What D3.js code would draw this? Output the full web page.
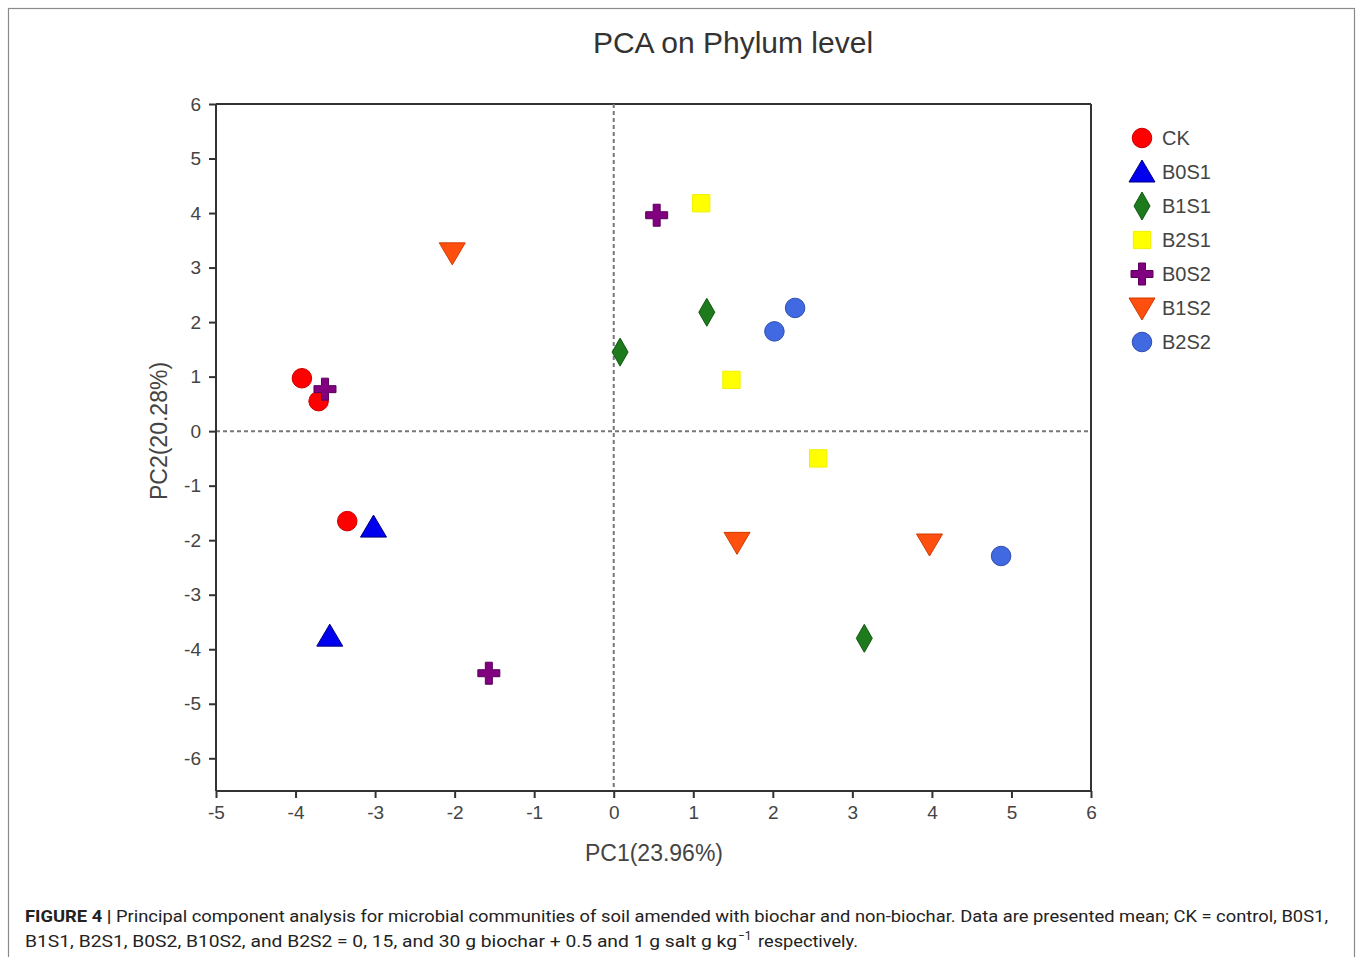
<!DOCTYPE html>
<html><head><meta charset="utf-8">
<script src="https://cdn.jsdelivr.net/npm/d3@7"></script>
<style>body{margin:0;background:#fff}svg{display:block}</style>
</head><body>
<svg id="c" width="1357" height="957"></svg>
<script>
const groups = ["CK","B0S1","B1S1","B2S1","B0S2","B1S2","B2S2"];
const groupColors = ["#ff0000","#0000ee","#1d7a1d","#ffff00","#800080","#ff4f0f","#4169e1"];
const groupStroke = ["#cc0000","#000080","#0f5a0f","#f0f000","#5a005a","#d03a00","#2f4fb0"];
const groupShapes = ["circle","triangle","diamond","square","cross","down","circle"];
const pc1 = {
  CK:[-3.92,-3.71,-3.35], B0S1:[-3.02,-3.57], B1S1:[0.08,1.17,3.15], B2S1:[1.10,1.48,2.57],
  B0S2:[0.54,-3.63,-1.57], B1S2:[-2.03,1.55,3.97], B2S2:[2.28,2.02,4.87]
};
const pc2 = {
  CK:[0.97,0.55,-1.65], B0S1:[-1.76,-3.76], B1S1:[1.45,2.18,-3.80], B2S1:[4.18,0.94,-0.50],
  B0S2:[3.96,0.77,-4.44], B1S2:[3.27,-2.04,-2.07], B2S2:[2.26,1.83,-2.29]
};
const xTicks = [-5,-4,-3,-2,-1,0,1,2,3,4,5,6];
const yTicks = [6,5,4,3,2,1,0,-1,-2,-3,-4,-5,-6];

const svg = d3.select("#c");
const font = "'Liberation Sans', Arial, sans-serif";
// outer frame
svg.append("rect").attr("x",8.5).attr("y",8.5).attr("width",1346).attr("height",960)
  .attr("fill","none").attr("stroke","#8a8a8a").attr("stroke-width",1.2);

const L=216, R=1091, T=104, B=791;
const x = d3.scaleLinear().domain([-5,6]).range([L,R]);
const y = d3.scaleLinear().domain([-6.6,6]).range([B,T]);

svg.append("text").attr("x",733).attr("y",53).attr("text-anchor","middle")
  .attr("font-family",font).attr("font-size",30).attr("fill","#333").text("PCA on Phylum level");

// box
svg.append("line").attr("x1",L).attr("x2",R).attr("y1",T).attr("y2",T).attr("stroke","#333").attr("stroke-width",2);
svg.append("line").attr("x1",R).attr("x2",R).attr("y1",T).attr("y2",B).attr("stroke","#333").attr("stroke-width",2);

// dashed zero lines
svg.append("line").attr("x1",x(0)).attr("x2",x(0)).attr("y1",T).attr("y2",B)
  .attr("stroke","#777").attr("stroke-width",2).attr("stroke-dasharray","4,3");
svg.append("line").attr("x1",L).attr("x2",R).attr("y1",y(0)).attr("y2",y(0))
  .attr("stroke","#777").attr("stroke-width",2).attr("stroke-dasharray","4,3");

const fmt = d => String(d);
const xa = svg.append("g").attr("transform",`translate(0,${B})`)
  .call(d3.axisBottom(x).tickValues(xTicks).tickSize(7).tickPadding(8).tickSizeOuter(0).tickFormat(fmt));
const ya = svg.append("g").attr("transform",`translate(${L},0)`)
  .call(d3.axisLeft(y).tickValues(yTicks).tickSize(7).tickPadding(8).tickSizeOuter(0).tickFormat(fmt));
[xa,ya].forEach(a=>{
  a.select(".domain").attr("stroke","#333").attr("stroke-width",2);
  a.selectAll(".tick line").attr("stroke","#333").attr("stroke-width",2);
  a.selectAll("text").attr("font-family",font).attr("font-size",19).attr("fill","#444");
});
ya.select(".domain").attr("d",`M0,${B}V${T}`);
xa.select(".domain").attr("d",`M${L},0H${R}`);

svg.append("text").attr("x",654).attr("y",861).attr("text-anchor","middle")
  .attr("font-family",font).attr("font-size",23).attr("fill","#444").text("PC1(23.96%)");
svg.append("text").attr("transform","translate(167,431) rotate(-90)").attr("text-anchor","middle")
  .attr("font-family",font).attr("font-size",23).attr("fill","#444").text("PC2(20.28%)");

function shapePath(s){
  if(s==="circle") return d3.symbol(d3.symbolCircle,300)();
  if(s==="square") return d3.symbol(d3.symbolSquare,300)();
  if(s==="triangle") return "M0,-12L13,10L-13,10Z";
  if(s==="down") return "M-13,-10L13,-10L0,12Z";
  if(s==="diamond") return "M0,-14L8,0L0,14L-8,0Z";
  if(s==="cross") return "M-3.5,-11H3.5V-3.5H11V3.5H3.5V11H-3.5V3.5H-11V-3.5H-3.5Z";
}
const pts = svg.append("g");
groups.forEach((g,i)=>{
  pc1[g].forEach((v,j)=>{
    pts.append("path").attr("d",shapePath(groupShapes[i]))
      .attr("transform",`translate(${x(v)},${y(pc2[g][j])})`)
      .attr("fill",groupColors[i]).attr("stroke",groupStroke[i]).attr("stroke-width",1);
  });
});

// legend
const lg = svg.append("g");
groups.forEach((g,i)=>{
  const yy = 138 + i*34;
  lg.append("path").attr("d",shapePath(groupShapes[i])).attr("transform",`translate(1142,${yy})`)
    .attr("fill",groupColors[i]).attr("stroke",groupStroke[i]).attr("stroke-width",1);
  lg.append("text").attr("x",1162).attr("y",yy+7).attr("font-family",font).attr("font-size",20)
    .attr("fill","#444").text(g);
});

// caption
const cf = "Roboto, 'Liberation Sans', sans-serif";
const c1 = svg.append("text").attr("x",25).attr("y",922).attr("font-family",cf).attr("font-size",17).attr("fill","#222")
  .attr("textLength",1303).attr("lengthAdjust","spacingAndGlyphs");
c1.append("tspan").attr("font-weight","bold").text("FIGURE 4 | ");
c1.append("tspan").text("Principal component analysis for microbial communities of soil amended with biochar and non-biochar. Data are presented mean; CK = control, B0S1,");
const c2 = svg.append("text").attr("y",947).attr("font-family",cf).attr("font-size",17).attr("fill","#222");
c2.append("tspan").attr("x",25).attr("textLength",712).attr("lengthAdjust","spacingAndGlyphs")
  .text("B1S1, B2S1, B0S2, B10S2, and B2S2 = 0, 15, and 30 g biochar + 0.5 and 1 g salt g kg");
c2.append("tspan").attr("x",738).attr("font-size",12).attr("dy",-7).text("−1");
c2.append("tspan").attr("x",758).attr("dy",7).attr("textLength",100).attr("lengthAdjust","spacingAndGlyphs").text("respectively.");
</script>
</body></html>
